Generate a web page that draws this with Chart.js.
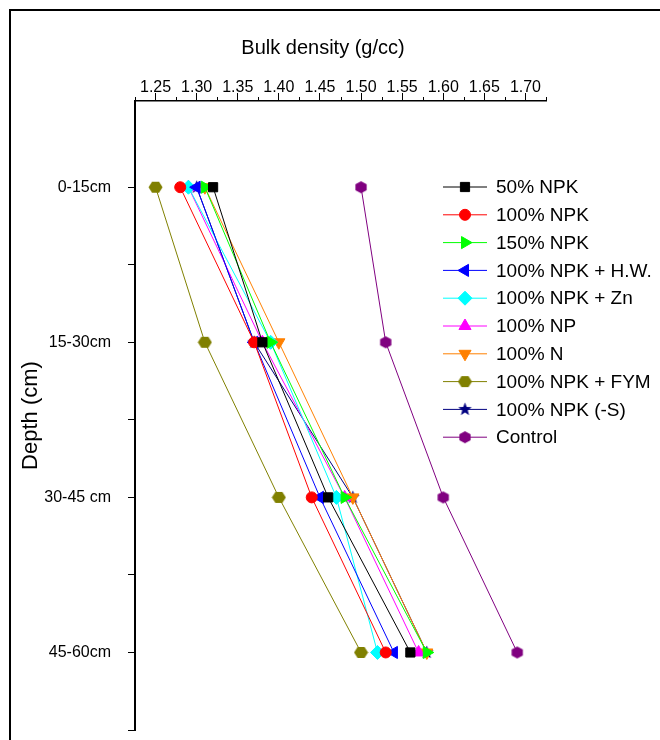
<!DOCTYPE html>
<html>
<head>
<meta charset="utf-8">
<script src="https://cdn.jsdelivr.net/npm/chart.js@4.4.1/dist/chart.umd.min.js"></script>
<style>
  html, body { margin: 0; padding: 0; background: #fff; }
  #wrap { position: relative; width: 660px; height: 740px; overflow: hidden; }
  #frame { position: absolute; left: 9px; top: 9px; width: 700px; height: 800px;
           border-top: 2px solid #000; border-left: 2px solid #000; }
  canvas { position: absolute; left: 0; top: 0; }
</style>
</head>
<body>
<div id="wrap">
  <div id="frame"></div>
  <canvas id="chart" width="660" height="740"></canvas>
</div>
<script>
// depth layers (y axis, top to bottom)
const depthLabels = ["0-15cm", "15-30cm", "30-45 cm", "45-60cm"];

// bulk density axis
const xMin = 1.225;
const xMax = 1.725;
const xStep = 0.025;

const treatments = [
  "50% NPK", "100% NPK", "150% NPK", "100% NPK + H.W.", "100% NPK + Zn",
  "100% NP", "100% N", "100% NPK + FYM", "100% NPK (-S)", "Control"
];

// bulk density (g/cc) per depth layer
const npk50    = [1.32, 1.38, 1.46, 1.56];
const npk100   = [1.28, 1.37, 1.44, 1.53];
const npk150   = [1.31, 1.39, 1.48, 1.58];
const npkHW    = [1.30, 1.37, 1.45, 1.54];
const npkZn    = [1.29, 1.39, 1.47, 1.52];
const np100    = [1.29, 1.38, 1.48, 1.57];
const n100     = [1.31, 1.40, 1.49, 1.58];
const npkFYM   = [1.25, 1.31, 1.40, 1.50];
const npkNoS   = [1.30, 1.37, 1.49, 1.58];
const control  = [1.50, 1.53, 1.60, 1.69];

const seriesValues = [npk50, npk100, npk150, npkHW, npkZn, np100, n100, npkFYM, npkNoS, control];

const FONT = "Arial, 'Liberation Sans', sans-serif";

function makeMarker(kind, color, size) {
  const c = document.createElement("canvas");
  c.width = size;
  c.height = size;
  const g = c.getContext("2d");
  const mid = size / 2;
  const r = size / 2 - 0.5;
  g.fillStyle = color;
  g.beginPath();
  if (kind === "star") {
    for (let i = 0; i < 10; i++) {
      const a = -Math.PI / 2 + i * Math.PI / 5;
      const rr = i % 2 === 0 ? r : r * 0.42;
      const px = mid + rr * Math.cos(a);
      const py = mid + rr * Math.sin(a);
      if (i === 0) g.moveTo(px, py); else g.lineTo(px, py);
    }
  } else {
    const start = kind === "hexUp" ? -Math.PI / 2 : 0;
    for (let i = 0; i < 6; i++) {
      const a = start + i * Math.PI / 3;
      const px = mid + r * Math.cos(a);
      const py = mid + r * 0.92 * Math.sin(a);
      if (i === 0) g.moveTo(px, py); else g.lineTo(px, py);
    }
  }
  g.closePath();
  g.fill();
  return c;
}

const styles = [
  { color: "#000000", pointStyle: "rect", radius: 6.5, rotation: 0 },
  { color: "#FF0000", pointStyle: "circle", radius: 5.5, rotation: 0 },
  { color: "#00FF00", pointStyle: "triangle", radius: 7, rotation: 90 },
  { color: "#0000FF", pointStyle: "triangle", radius: 7, rotation: 270 },
  { color: "#00FFFF", pointStyle: "rectRot", radius: 7, rotation: 0 },
  { color: "#FF00FF", pointStyle: "triangle", radius: 7, rotation: 0 },
  { color: "#FF8000", pointStyle: "triangle", radius: 7, rotation: 180 },
  { color: "#808000", pointStyle: makeMarker("hexFlat", "#808000", 15), radius: 7, rotation: 0 },
  { color: "#000080", pointStyle: makeMarker("star", "#000080", 15), radius: 7, rotation: 0 },
  { color: "#800080", pointStyle: makeMarker("hexUp", "#800080", 14), radius: 7, rotation: 0 }
];

const datasets = treatments.map((name, i) => ({
  label: name,
  data: seriesValues[i].map((v, d) => ({ x: v, y: d })),
  borderColor: styles[i].color,
  backgroundColor: styles[i].color,
  borderWidth: 1,
  pointStyle: styles[i].pointStyle,
  pointRadius: styles[i].radius,
  pointRotation: styles[i].rotation,
  pointBorderWidth: 1,
  pointBorderColor: styles[i].color,
  pointBackgroundColor: styles[i].color,
  fill: false,
  tension: 0
}));

// short minor ticks on the top axis
const minorTicks = {
  id: "minorTicks",
  afterDraw(chart) {
    const sx = chart.scales.x;
    const ctx = chart.ctx;
    ctx.save();
    ctx.strokeStyle = "#000";
    ctx.lineWidth = 1;
    sx.ticks.forEach((t, i) => {
      if (i % 2 === 0) {
        const px = Math.round(sx.getPixelForValue(t.value)) + 0.5;
        ctx.beginPath();
        ctx.moveTo(px, sx.bottom);
        ctx.lineTo(px, sx.bottom - 4);
        ctx.stroke();
      }
    });
    ctx.restore();
  }
};

const axisTitles = {
  id: "axisTitles",
  afterDraw(chart) {
    const ctx = chart.ctx;
    ctx.save();
    ctx.fillStyle = "#000";
    ctx.textAlign = "center";
    ctx.textBaseline = "middle";
    ctx.font = "20px " + FONT;
    ctx.fillText("Bulk density (g/cc)", 323, 48);
    ctx.translate(31, (chart.chartArea.top + chart.chartArea.bottom) / 2);
    ctx.rotate(-Math.PI / 2);
    ctx.font = "22px " + FONT;
    ctx.fillText("Depth (cm)", 0, 0);
    ctx.restore();
  }
};

const insideLegend = {
  id: "insideLegend",
  afterDraw(chart) {
    const ctx = chart.ctx;
    const x0 = 443, x1 = 487, mx = 465, tx = 496, y0 = 187, step = 27.8;
    ctx.save();
    chart.data.datasets.forEach((ds, i) => {
      const y = y0 + i * step;
      ctx.strokeStyle = ds.borderColor;
      ctx.lineWidth = 1;
      ctx.beginPath();
      ctx.moveTo(x0, y);
      ctx.lineTo(x1, y);
      ctx.stroke();
      ctx.fillStyle = ds.backgroundColor;
      ctx.strokeStyle = ds.borderColor;
      if (Chart.helpers && Chart.helpers.drawPoint) {
        Chart.helpers.drawPoint(ctx, {
          pointStyle: ds.pointStyle, rotation: ds.pointRotation,
          radius: ds.pointRadius, borderWidth: 1
        }, mx, y);
      }
      ctx.fillStyle = "#000";
      ctx.font = "19px " + FONT;
      ctx.textAlign = "left";
      ctx.textBaseline = "middle";
      ctx.fillText(ds.label, tx, y + 1);
    });
    ctx.restore();
  }
};

Chart.defaults.color = "#000";
Chart.defaults.font.family = FONT;

new Chart(document.getElementById("chart"), {
  type: "line",
  data: { datasets },
  options: {
    responsive: false,
    animation: false,
    layout: { padding: { left: 10, top: 0, right: 114, bottom: 10 } },
    plugins: { legend: { display: false }, tooltip: { enabled: false } },
    scales: {
      x: {
        type: "linear",
        position: "top",
        min: xMin,
        max: xMax,
        afterBuildTicks(scale) {
          const ticks = [];
          const n = Math.round((xMax - xMin) / xStep);
          for (let i = 0; i <= n; i++) ticks.push({ value: xMin + i * xStep });
          scale.ticks = ticks;
        },
        afterFit(scale) {
          scale.height = 101;
          scale.paddingLeft = 0;
          scale.paddingRight = 0;
        },
        ticks: {
          autoSkip: false,
          maxRotation: 0,
          padding: -4,
          font: { size: 16 },
          callback(value, index) {
            return index % 2 === 1 ? Number(value).toFixed(2) : "";
          }
        },
        grid: {
          drawOnChartArea: false,
          tickLength: 8,
          tickWidth: 1,
          tickColor: (c) => (c.index % 2 === 1 ? "#000" : "rgba(0,0,0,0)")
        },
        border: { display: true, color: "#000", width: 1.5 }
      },
      y: {
        type: "linear",
        reverse: true,
        min: -0.556,
        max: depthLabels.length - 0.5,
        afterBuildTicks(scale) {
          const ticks = [];
          depthLabels.forEach((_, i) => {
            ticks.push({ value: i });
            ticks.push({ value: i + 0.5 });
          });
          scale.ticks = ticks;
        },
        afterFit(scale) {
          scale.width = 125;
          scale.paddingTop = 0;
          scale.paddingBottom = 0;
        },
        ticks: {
          autoSkip: false,
          padding: 17,
          font: { size: 16 },
          callback(value) {
            return Number.isInteger(value) ? depthLabels[value] : "";
          }
        },
        grid: {
          drawOnChartArea: false,
          tickLength: 7,
          tickWidth: 1,
          tickColor: "#000"
        },
        border: { display: true, color: "#000", width: 2 }
      }
    }
  },
  plugins: [minorTicks, axisTitles, insideLegend]
});
</script>
</body>
</html>
